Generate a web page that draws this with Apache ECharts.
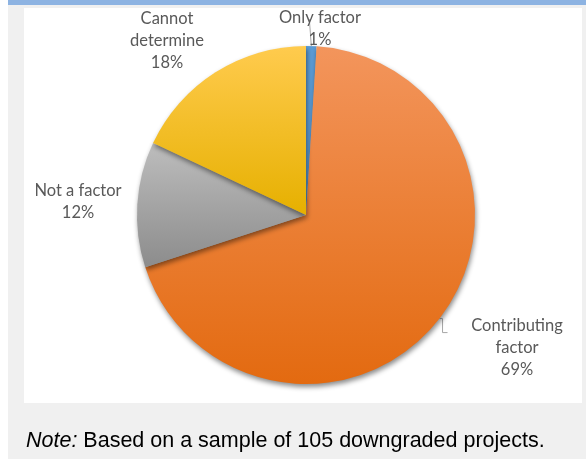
<!DOCTYPE html>
<html>
<head>
<meta charset="utf-8">
<script src="https://cdn.jsdelivr.net/npm/echarts@6/dist/echarts.min.js"></script>
<style>
  html, body { margin: 0; padding: 0; background: #ffffff; }
  .frame {
    position: absolute; left: 8px; top: 0; width: 578px; height: 454px;
    border-top: 5px solid #8db3e2; background: #f0f0f0;
  }
  .panel {
    position: absolute; left: 24px; top: 8px; width: 558px; height: 395px;
    background: #ffffff;
  }
  #chart { position: absolute; left: 0; top: 0; width: 586px; height: 461px; }
</style>
</head>
<body>
<div class="frame"></div>
<div class="panel"></div>
<div id="chart"></div>
<script>
// slice names, clockwise from 12 o'clock
var categories = ['Only factor', 'Contributing factor', 'Not a factor', 'Cannot determine']
// share of downgraded projects, %
var values = [1, 69, 12, 18]
// label texts as they are broken in the picture
var labelNames = ['Only factor', 'Contributing\nfactor', 'Not a factor', 'Cannot\ndetermine']
var noteText = 'Based on a sample of 105 downgraded projects.'

// top / bottom colours of each slice gradient
var sliceColors = [
  ['#5b9bd5', '#5b9bd5'],
  ['#f3955c', '#e36a10'],
  ['#bdbdbd', '#8c8c8c'],
  ['#ffcb4e', '#e6b000']
]
// where each label sits (centre of the text block)
var labelPos = [[320, 29], [517, 348], [78, 202], [167, 41]]

var myChart = echarts.init(document.getElementById('chart'))

var pieData = categories.map(function (name, i) {
  return {
    name: name,
    value: values[i],
    itemStyle: {
      color: new echarts.graphic.LinearGradient(0, 0, 0, 1, [
        { offset: 0, color: sliceColors[i][0] },
        { offset: 1, color: sliceColors[i][1] }
      ])
    },
    labelLine: { show: i < 2 }
  }
})

myChart.setOption({
  animation: false,
  title: {
    left: 21,
    top: 425,
    text: '{i|Note:} ' + noteText,
    textStyle: {
      fontFamily: 'Liberation Sans',
      fontSize: 21.5,
      fontWeight: 'normal',
      color: '#000000',
      rich: {
        i: { fontFamily: 'Liberation Sans', fontSize: 21.5, fontStyle: 'italic', color: '#000000' }
      }
    }
  },
  series: [
    {
      type: 'pie',
      center: [306, 215],
      radius: 169,
      startAngle: 90,
      clockwise: true,
      percentPrecision: 0,
      itemStyle: {
        shadowBlur: 5,
        shadowOffsetX: 1,
        shadowOffsetY: 3,
        shadowColor: 'rgba(0, 0, 0, 0.45)'
      },
      label: {
        show: true,
        position: 'outside',
        fontFamily: 'Lato',
        fontSize: 16.5,
        lineHeight: 22,
        color: '#595959',
        align: 'center',
        formatter: function (params) {
          return labelNames[params.dataIndex] + '\n' + params.percent + '%'
        }
      },
      labelLine: {
        show: true,
        length: 8,
        length2: 4,
        lineStyle: { color: '#a6a6a6', width: 1 }
      },
      labelLayout: function (params) {
        var p = labelPos[params.dataIndex]
        var res = { x: p[0], y: p[1], align: 'center', verticalAlign: 'middle' }
        var pts = params.labelLinePoints
        if (pts && pts.length) {
          var s = pts[0]
          if (params.dataIndex === 0) {
            // short line going straight up from the sliver
            res.labelLinePoints = [s, [s[0] - 1, s[1] - 14], [s[0] - 2, s[1] - 27]]
          } else if (params.dataIndex === 1) {
            // small bracket next to the slice edge
            res.labelLinePoints = [s, [s[0] + 3, s[1]], [s[0] + 3, s[1] + 14], [s[0] + 8, s[1] + 14]]
          }
        }
        return res
      },
      data: pieData
    }
  ]
})
</script>
</body>
</html>
